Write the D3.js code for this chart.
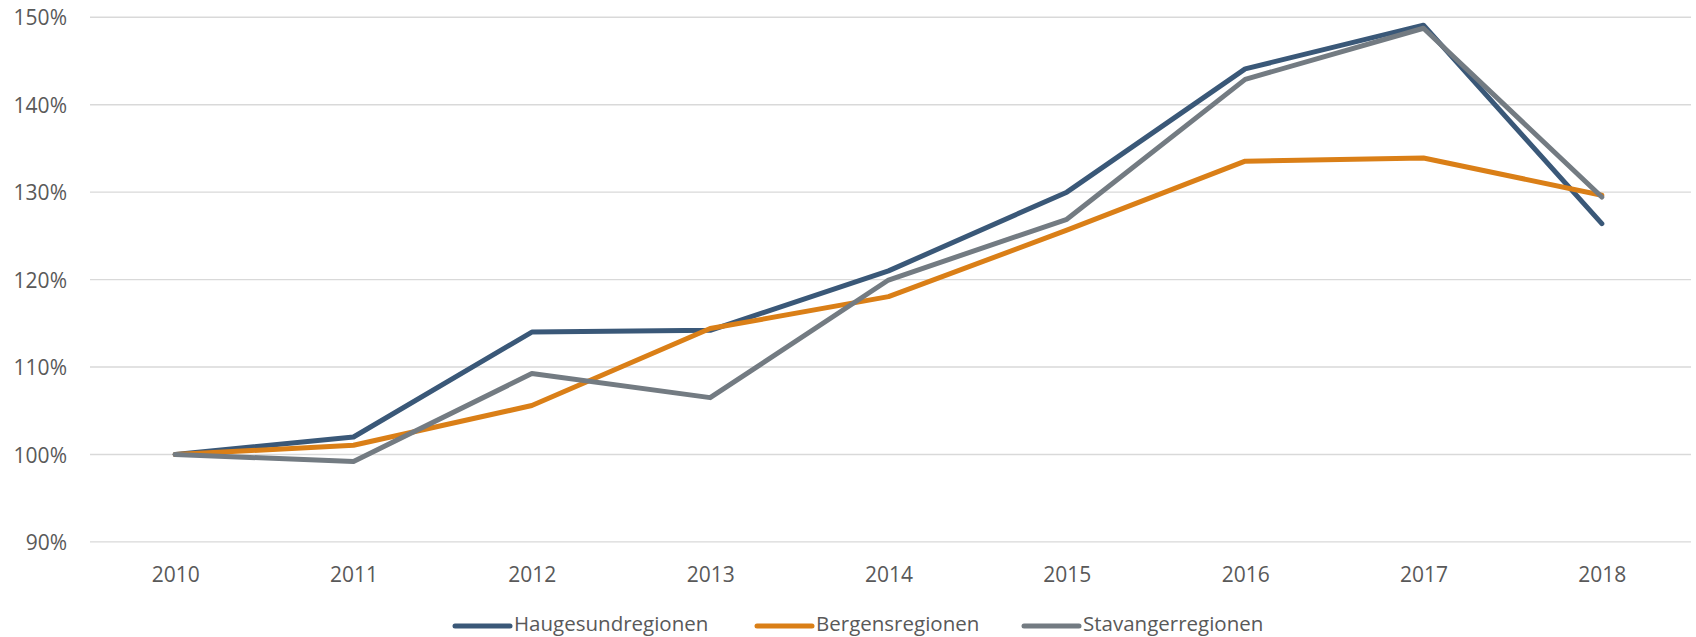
<!DOCTYPE html>
<html>
<head>
<meta charset="utf-8">
<script src="https://cdn.jsdelivr.net/npm/d3@7"></script>
<style>
  html, body { margin: 0; padding: 0; background: #fff; }
  svg { display: block; }
  text { font-family: "Open Sans", "Liberation Sans", sans-serif; fill: #595959; }
</style>
</head>
<body>
<svg id="chart" width="1696" height="637"></svg>
<script>
const years = ["2010","2011","2012","2013","2014","2015","2016","2017","2018"];
const haugesund = [100, 102.0, 114.0, 114.2, 121.0, 130.0, 144.1, 149.1, 126.4];
const bergen    = [100, 101.05, 105.6, 114.4, 118.05, 125.65, 133.55, 133.9, 129.65];
const stavanger = [100, 99.2, 109.25, 106.5, 119.95, 126.9, 142.9, 148.75, 129.45];
const yTicks = [90, 100, 110, 120, 130, 140, 150];
const seriesNames = ["Haugesundregionen", "Bergensregionen", "Stavangerregionen"];
const seriesColors = ["#3A5878", "#DA7F17", "#737B82"];

(function () {
const series = [haugesund, bergen, stavanger].map((v, i) => ({
  name: seriesNames[i], color: seriesColors[i], values: v
}));

const svg = d3.select("#chart");
const pLeft = 86, pRight = 1691, pTop = 17.3, pBottom = 541.9;

const x = d3.scalePoint().domain(years).range([pLeft, pRight]).padding(0.5);
const y = d3.scaleLinear().domain([90, 150]).range([pBottom, pTop]);

// gridlines
svg.append("g").selectAll("line").data(yTicks).join("line")
  .attr("x1", 90).attr("x2", pRight)
  .attr("y1", d => y(d)).attr("y2", d => y(d))
  .attr("stroke", "#D9D9D9").attr("stroke-width", 1.4);

// y axis labels
const yAxis = d3.axisLeft(y).tickValues(yTicks).tickSize(0).tickPadding(0)
  .tickFormat(d => d + "%");
const gy = svg.append("g").attr("transform", "translate(67,0)").call(yAxis);
gy.select(".domain").remove();
gy.selectAll("text").attr("font-size", 21).attr("dy", "0.36em")
  .style("font-family", "'Open Sans', sans-serif").attr("fill", "#595959");

// x axis labels
const xAxis = d3.axisBottom(x).tickSize(0).tickPadding(0);
const gx = svg.append("g").attr("transform", "translate(0,581.5)").call(xAxis);
gx.select(".domain").remove();
gx.selectAll("text").attr("font-size", 21).attr("dy", 0)
  .style("font-family", "'Open Sans', sans-serif").attr("fill", "#595959");

// lines
const line = d3.line().x((d, i) => x(years[i])).y(d => y(d));
svg.append("g").selectAll("path").data(series).join("path")
  .attr("d", d => line(d.values))
  .attr("fill", "none")
  .attr("stroke", d => d.color)
  .attr("stroke-width", 5)
  .attr("stroke-linecap", "round")
  .attr("stroke-linejoin", "round");

// legend
const legendX = [455, 757, 1024];
const lg = svg.append("g").selectAll("g").data(series).join("g")
  .attr("transform", (d, i) => `translate(${legendX[i]},626)`);
lg.append("line").attr("x1", 0).attr("x2", 55).attr("y1", 0).attr("y2", 0)
  .attr("stroke", d => d.color).attr("stroke-width", 5).attr("stroke-linecap", "round");
lg.append("text").attr("x", 59).attr("y", 5).attr("font-size", 20.5)
  .text(d => d.name);
})();
</script>
</body>
</html>
